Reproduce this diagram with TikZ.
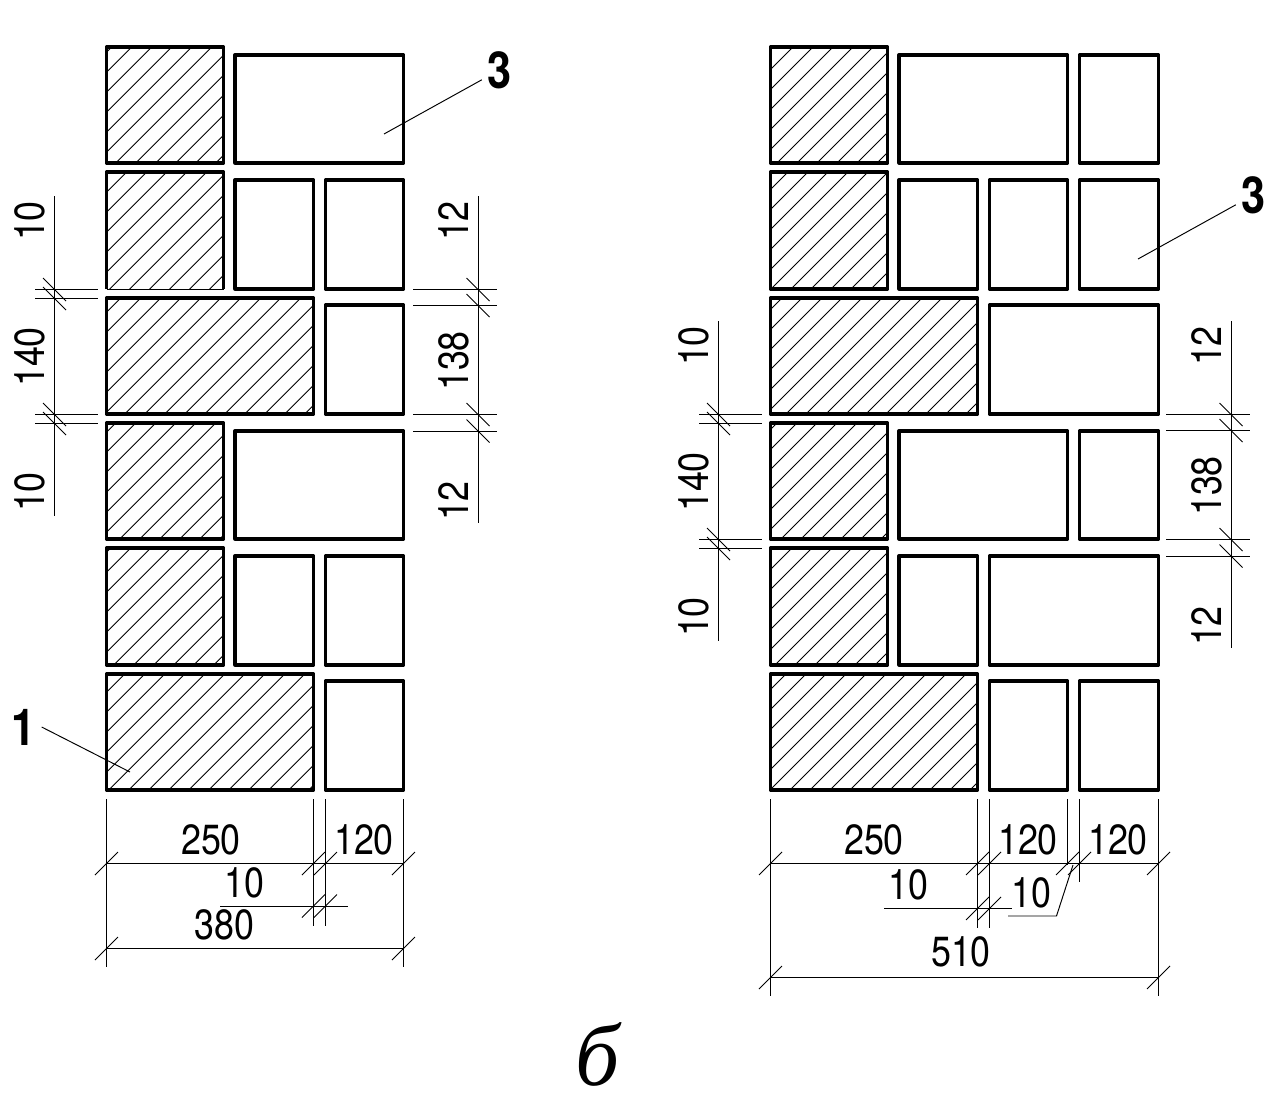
\documentclass[tikz,border=0pt]{standalone}
\usepackage{fontspec}
\setmainfont[FakeStretch=0.85]{TeX Gyre Heros}
\newfontfamily\titlefont{Liberation Serif}
\usetikzlibrary{positioning}
\tikzset{
	brick/.style={line width=1.85pt, line join=round},
	hatchline/.style={line width=0.5pt},
	thinline/.style={line width=0.55pt},
	size/.style={inner sep=0pt, font=\fontsize{24}{25}\selectfont},
	sizeup/.style={size, rotate=90},
	pointer/.style={inner sep=3pt, font=\fontsize{29}{30}\selectfont\bfseries}
}
\newcommand{\ticksdown}[2]{\draw[thinline] (#1-11.5,#2-11.5) -- (#1+11.5,#2+11.5);}
\newcommand{\ticksup}[2]{\draw[thinline] (#1-11.5,#2+11.5) -- (#1+11.5,#2-11.5);}
\begin{document}
\begin{tikzpicture}[x=0.02cm, y=-0.02cm]
	\useasboundingbox (0,0) rectangle (1285,1115);
	% left hatching
	\begin{scope}
		\clip (106.5,47) rectangle (223.5,163) (106.5,172) rectangle (223.5,289)
			(106.5,298) rectangle (313.5,414) (106.5,423) rectangle (223.5,539)
			(106.5,548) rectangle (223.5,665) (106.5,674) rectangle (313.5,790);
		\foreach \c in {158.7,178.7,...,1120}
			\draw[hatchline] (0,\c) -- (\c,0);
	\end{scope}
	% right hatching
	\begin{scope}
		\clip (770.5,47) rectangle (887.5,163) (770.5,172) rectangle (887.5,289)
			(770.5,298) rectangle (977.5,414) (770.5,423) rectangle (887.5,539)
			(770.5,548) rectangle (887.5,665) (770.5,674) rectangle (977.5,790);
		\foreach \c in {820,840,...,1780}
			\draw[hatchline] (0,\c) -- (\c,0);
	\end{scope}
	% bricks
	\foreach \xa/\ya/\xb/\yb in {106.5/47/223.5/163, 235/55/403.5/163,
		235/180/313.5/289, 325.5/180/403.5/289,
		106.5/298/313.5/414, 325.5/305/403.5/414,
		106.5/423/223.5/539, 235/431/403.5/539,
		106.5/548/223.5/665, 235/556/313.5/665, 325.5/556/403.5/665,
		106.5/674/313.5/790, 325.5/681/403.5/790,
		770.5/47/887.5/163, 899/55/1067.5/163, 1079.5/55/1158.5/163,
		770.5/172/887.5/289, 899/180/977.5/289, 989.5/180/1067.5/289, 1079.5/180/1158.5/289,
		770.5/298/977.5/414, 989.5/305/1158.5/414,
		770.5/423/887.5/539, 899/431/1067.5/539, 1079.5/431/1158.5/539,
		770.5/548/887.5/665, 899/556/977.5/665, 989.5/556/1158.5/665,
		770.5/674/977.5/790, 989.5/681/1067.5/790, 1079.5/681/1158.5/790}
		\draw[brick] (\xa,\ya) rectangle (\xb,\yb);
	\draw[brick] (106.5,289) -- (106.5,172) -- (223.5,172) -- (223.5,289);
	\draw[thinline] (106.5,289) -- (223.5,289);
	% side sizes
	\foreach \dx/\dy/\ex in {0/0/0, 664/125/753} {
		\begin{scope}[shift={(\dx,\dy)}]
			\draw[thinline] (54.5,196) -- (54.5,516);
			\foreach \ty in {289.5,298.5,414.5,423.5} {
				\draw[thinline] (35,\ty) -- (98,\ty);
				\ticksdown{54.5}{\ty}
			}
			\node[sizeup] (sizea\dx) at (30,221) {10};
			\node[sizeup] (sizeb\dx) at (30,357) {140};
			\node[sizeup] (sizec\dx) at (30,492) {10};
		\end{scope}
		\begin{scope}[shift={(\ex,\dy)}]
			\draw[thinline] (478,196) -- (478,523);
			\foreach \ty in {289.5,305.5,414.5,431} {
				\draw[thinline] (413,\ty) -- (497,\ty);
				\ticksdown{478}{\ty}
			}
			\node[sizeup] (sized\dx) at (454,221) {12};
			\node[sizeup] (sizee\dx) at (454,361) {138};
			\node[sizeup] (sizef\dx) at (454,501) {12};
		\end{scope}
	}
	% bottom sizes, left
	\draw[thinline] (106.5,799) -- (106.5,967);
	\draw[thinline] (403.5,799) -- (403.5,967);
	\draw[thinline] (313.5,799) -- (313.5,926);
	\draw[thinline] (325.5,799) -- (325.5,926);
	\draw[thinline] (106.5,863.5) -- (403.5,863.5);
	\draw[thinline] (220,906) -- (348,906);
	\draw[thinline] (106.5,948.5) -- (403.5,948.5);
	\foreach \tx/\ty in {106.5/863.5, 313.5/863.5, 325.5/863.5, 403.5/863.5,
		313.5/906, 325.5/906, 106.5/948.5, 403.5/948.5} {
		\ticksup{\tx}{\ty}
	}
	\node[size] (leftwide) at (211,840) {250};
	\node[size] (leftnarrow) at (364,840) {120};
	\node[size] (leftgap) at (244.5,883) {10};
	\node[size] (lefttotal) at (224.5,925) {380};
	% bottom sizes, right
	\draw[thinline] (770.5,799) -- (770.5,996);
	\draw[thinline] (1158.5,799) -- (1158.5,996);
	\draw[thinline] (977.5,799) -- (977.5,928);
	\draw[thinline] (989.5,799) -- (989.5,928);
	\draw[thinline] (1067.5,799) -- (1067.5,865);
	\draw[thinline] (1079.5,799) -- (1079.5,882);
	\draw[thinline] (770.5,863.5) -- (1158.5,863.5);
	\draw[thinline] (884,908.5) -- (1012,908.5);
	\draw[thinline] (770.5,977.5) -- (1158.5,977.5);
	\foreach \tx/\ty in {770.5/863.5, 977.5/863.5, 989.5/863.5, 1067.5/863.5,
		1079.5/863.5, 1158.5/863.5, 977.5/908.5, 989.5/908.5,
		770.5/977.5, 1158.5/977.5} {
		\ticksup{\tx}{\ty}
	}
	\node[size] (rightwide) at (874,840) {250};
	\node[size] (rightmid) at (1028,840) {120};
	\node[size] (rightnarrow) at (1118,840) {120};
	\node[size] (rightgapa) at (908.5,885) {10};
	\node[size] (rightgapb) at (1031.5,892.5) {10};
	\node[size] (righttotal) at (961,952) {510};
	\draw[thinline] (1008,916) -- (1056.5,916) -- (1073,865);
	% pointers
	\node[pointer] (pointa) at (499.5,70) {3};
	\node[pointer] (pointb) at (1253.5,195) {3};
	\node[pointer] (pointc) at (24,727) {1};
	\coordinate (pointaend) at (384,134);
	\coordinate (pointbend) at (1138,259);
	\coordinate (pointcend) at (130,772);
	\draw[thinline] (pointa) -- (pointaend);
	\draw[thinline] (pointb) -- (pointbend);
	\draw[thinline] (pointc.east) -- (pointcend);
	\node[font=\fontsize{50}{50}\selectfont\titlefont\itshape, inner sep=0pt] (caption) at (598,1054) {б};
\end{tikzpicture}
\end{document}
